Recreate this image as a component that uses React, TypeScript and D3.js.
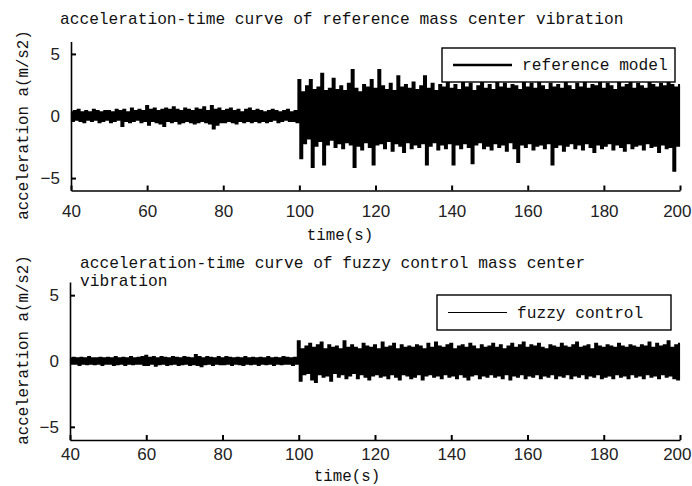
import React, { useRef, useEffect } from 'react';
import * as d3 from 'd3';

// samples every 0.5 s starting at 40 s (peaks)
const SAMPLE_START = 40;
const SAMPLE_STEP = 0.5;

// reference model, 40-100 s (quiet part)
const refQuiet = [
  0.3, -0.4, 0.4, -0.3, 0.5, -0.4, 0.3, -0.5, 0.4, -0.3, 0.3, -0.4, 0.5, -0.3, 0.4, -0.5, 0.3, -0.4, 0.4, -0.3,
  0.4, -0.5, 0.3, -0.4, 0.5, -0.3, 0.4, -0.8, 0.5, -0.4, 0.3, -0.5, 0.6, -0.4, 0.4, -0.3, 0.5, -0.5, 0.4, -0.4,
  0.8, -0.7, 0.5, -0.4, 0.6, -0.5, 0.4, -0.6, 0.5, -0.8, 0.6, -0.4, 0.5, -0.5, 0.7, -0.4, 0.5, -0.6, 0.4, -0.5,
  0.6, -0.4, 0.5, -0.5, 0.4, -0.6, 0.6, -0.5, 0.5, -0.4, 0.7, -0.5, 0.4, -0.6, 0.8, -1.0, 0.5, -0.7, 0.6, -0.5,
  0.4, -0.5, 0.5, -0.4, 0.6, -0.5, 0.4, -0.6, 0.5, -0.4, 0.3, -0.5, 0.5, -0.4, 0.6, -0.5, 0.4, -0.4, 0.5, -0.5,
  0.4, -0.4, 0.3, -0.5, 0.4, -0.4, 0.5, -0.3, 0.4, -0.5, 0.3, -0.4, 0.4, -0.3, 0.5, -0.4, 0.3, -0.4, 0.4, -0.5,
];

// reference model, 100-200 s
const refActive = [
  2.9, -3.4, 1.9, -2.2, 2.4, -1.8, 2.9, -4.1, 2.1, -2.4, 2.3, -2.0, 3.4, -3.9, 2.0, -2.3, 2.2, -1.9, 3.0, -2.5,
  2.1, -2.2, 2.4, -2.6, 2.0, -2.1, 2.6, -2.3, 3.7, -4.1, 2.2, -2.4, 1.9, -2.7, 2.5, -2.1, 2.3, -2.5, 2.9, -3.9,
  2.2, -2.3, 3.7, -2.2, 2.4, -2.6, 2.1, -2.0, 2.6, -2.8, 2.0, -2.2, 3.2, -2.4, 2.3, -2.9, 2.5, -2.1, 2.2, -2.6,
  2.7, -2.3, 2.1, -2.5, 2.4, -2.2, 3.2, -3.9, 2.2, -2.4, 2.6, -2.1, 2.0, -2.7, 2.5, -2.3, 2.3, -2.6, 2.8, -2.2,
  2.2, -3.9, 2.5, -2.3, 2.1, -2.6, 2.7, -2.2, 2.3, -2.5, 2.6, -3.8, 2.0, -2.3, 2.4, -2.1, 2.8, -2.6, 2.2, -2.4,
  2.5, -2.7, 2.1, -2.2, 2.7, -2.5, 2.3, -2.3, 2.6, -2.8, 2.2, -2.1, 2.5, -2.6, 2.4, -3.7, 2.1, -2.3, 2.8, -2.5,
  2.3, -2.2, 2.6, -2.7, 2.2, -2.4, 2.7, -2.3, 2.4, -2.6, 2.1, -2.2, 2.6, -3.9, 2.3, -2.5, 2.5, -2.3, 2.2, -2.8,
  2.7, -2.4, 2.4, -2.2, 2.1, -2.6, 2.6, -2.3, 2.3, -2.7, 2.8, -2.2, 2.2, -2.5, 2.5, -2.9, 2.4, -2.3, 2.7, -2.6,
  2.2, -2.4, 2.6, -2.2, 2.4, -2.7, 2.1, -2.3, 2.7, -2.5, 2.3, -2.8, 2.5, -2.2, 2.8, -2.6, 2.2, -2.4, 2.6, -2.3,
  2.4, -2.7, 2.2, -2.2, 2.7, -2.5, 2.5, -2.4, 2.3, -2.9, 2.6, -2.3, 2.4, -2.6, 2.7, -2.5, 2.5, -4.4, 2.3, -2.4,
  2.5,
];

// fuzzy control, 40-100 s
const fuzzyQuiet = [
  0.2, -0.2, 0.25, -0.2, 0.2, -0.3, 0.25, -0.2, 0.2, -0.25, 0.3, -0.2, 0.2, -0.25, 0.2, -0.2, 0.25, -0.3, 0.2, -0.2,
  0.25, -0.2, 0.2, -0.3, 0.3, -0.25, 0.2, -0.2, 0.25, -0.3, 0.2, -0.2, 0.3, -0.25, 0.2, -0.2, 0.25, -0.2, 0.3, -0.3,
  0.4, -0.3, 0.25, -0.2, 0.3, -0.35, 0.2, -0.25, 0.3, -0.2, 0.25, -0.3, 0.2, -0.25, 0.3, -0.2, 0.25, -0.3, 0.2, -0.25,
  0.3, -0.2, 0.25, -0.3, 0.2, -0.25, 0.45, -0.3, 0.3, -0.4, 0.2, -0.25, 0.3, -0.2, 0.25, -0.3, 0.2, -0.2, 0.3, -0.25,
  0.2, -0.25, 0.3, -0.2, 0.25, -0.3, 0.2, -0.2, 0.25, -0.25, 0.2, -0.3, 0.3, -0.2, 0.2, -0.25, 0.25, -0.2, 0.2, -0.3,
  0.25, -0.2, 0.2, -0.25, 0.3, -0.2, 0.2, -0.3, 0.25, -0.2, 0.2, -0.25, 0.3, -0.2, 0.25, -0.2, 0.2, -0.3, 0.25, -0.2,
];

// fuzzy control, 100-200 s
const fuzzyActive = [
  1.5, -1.5, 0.9, -1.0, 1.1, -0.9, 1.3, -1.4, 1.0, -1.6, 1.2, -1.0, 1.4, -1.2, 0.9, -1.1, 1.2, -1.5, 1.0, -0.9,
  1.1, -1.2, 0.9, -1.0, 1.5, -1.3, 1.0, -1.1, 1.2, -0.9, 1.0, -1.3, 0.9, -1.0, 1.3, -1.2, 1.1, -1.4, 1.0, -1.1,
  1.2, -1.0, 0.9, -1.2, 1.4, -1.1, 1.0, -1.3, 1.1, -1.0, 1.3, -1.2, 0.9, -1.4, 1.2, -1.0, 1.0, -1.1, 1.1, -1.3,
  1.0, -1.2, 1.2, -1.0, 1.1, -1.4, 0.9, -1.1, 1.3, -1.0, 1.0, -1.2, 1.4, -1.1, 1.1, -1.3, 1.0, -1.0, 1.2, -1.2,
  1.3, -1.1, 0.9, -1.3, 1.1, -1.0, 1.2, -1.2, 1.0, -1.4, 1.3, -1.1, 1.1, -1.0, 0.9, -1.3, 1.2, -1.1, 1.0, -1.2,
  1.1, -1.0, 1.3, -1.2, 1.0, -1.1, 1.2, -1.3, 0.9, -1.0, 1.1, -1.4, 1.3, -1.1, 1.0, -1.2, 1.2, -1.0, 1.4, -1.3,
  1.0, -1.1, 1.2, -1.2, 1.1, -1.0, 1.3, -1.3, 1.0, -1.1, 0.9, -1.2, 1.2, -1.0, 1.1, -1.3, 1.0, -1.1, 1.3, -1.2,
  1.1, -1.0, 1.0, -1.3, 1.2, -1.1, 1.4, -1.2, 1.0, -1.0, 1.1, -1.3, 1.2, -1.1, 0.9, -1.2, 1.3, -1.0, 1.1, -1.3,
  1.0, -1.2, 1.2, -1.1, 1.1, -1.3, 1.0, -1.0, 1.3, -1.2, 1.1, -1.1, 1.0, -1.3, 1.2, -1.0, 1.1, -1.2, 1.0, -1.1,
  1.2, -1.3, 1.1, -1.0, 1.4, -1.2, 1.0, -1.1, 1.3, -1.3, 1.1, -1.0, 1.2, -1.2, 1.5, -1.1, 1.0, -1.3, 1.2, -1.4,
  1.3,
];

const xTickValues = [40, 60, 80, 100, 120, 140, 160, 180, 200];
const yTickValues = [-5, 0, 5];
const xDomain = [40, 200];
const yDomain = [-6, 6];

const refTitle = ['acceleration-time curve of reference mass center vibration'];
const fuzzyTitle = ['acceleration-time curve of fuzzy control mass center', 'vibration'];
const yLabel = 'acceleration a(m/s2)';
const xLabel = 'time(s)';

const MONO = '"Liberation Mono", "DejaVu Sans Mono", monospace';
const SANS = '"Liberation Sans", Arial, sans-serif';

const panels = [
  {
    values: [...refQuiet, ...refActive],
    title: refTitle, titleX: 60, titleY: 24,
    legend: 'reference model', legendLineW: 2.6,
    box: { x: 442, y: 48, w: 233, h: 34 },
    left: 71, right: 680, top: 41.5, bottom: 190.5,
    lineW: 2.1, xPad: 14, yLabelY: 125, xLabelX: 340, xLabelY: 240,
  },
  {
    values: [...fuzzyQuiet, ...fuzzyActive],
    title: fuzzyTitle, titleX: 80, titleY: 268,
    legend: 'fuzzy control', legendLineW: 1.2,
    box: { x: 437, y: 295, w: 234, h: 35 },
    left: 70, right: 680, top: 282, bottom: 440,
    lineW: 2.05, xPad: 8, yLabelY: 350, xLabelX: 347, xLabelY: 481,
  },
];

function App() {
  const svgRef = useRef(null);

  useEffect(() => {
    const svg = d3.select(svgRef.current);
    svg.selectAll('*').remove();

    panels.forEach(p => {
      const x = d3.scaleLinear().domain(xDomain).range([p.left, p.right]);
      const y = d3.scaleLinear().domain(yDomain).range([p.bottom, p.top]);
      const g = svg.append('g');

      // signal, drawn as steps so the dense part fills up like the original plot
      const line = d3.line<number>()
        .x((d, i) => x(SAMPLE_START + i * SAMPLE_STEP))
        .y(d => y(d))
        .curve(d3.curveStep);
      g.append('path')
        .datum(p.values)
        .attr('d', line)
        .attr('fill', 'none')
        .attr('stroke', '#000')
        .attr('stroke-width', p.lineW);

      // bottom axis, ticks inside
      const xa = g.append('g')
        .attr('transform', `translate(0,${p.bottom})`)
        .call(d3.axisBottom(x).tickValues(xTickValues).tickSizeInner(-5).tickSizeOuter(0).tickPadding(p.xPad));
      xa.attr('font-family', SANS).attr('font-size', 17);
      xa.select('.domain').attr('stroke-width', 1.6);
      xa.selectAll('.tick line').attr('stroke-width', 2);
      xa.selectAll('.tick text').attr('fill', '#222')
        .attr('text-anchor', d => (d === 200 ? 'end' : 'middle'))
        .attr('dx', d => (d === 200 ? 11 : 0));

      // left axis, ticks inside
      const ya = g.append('g')
        .attr('transform', `translate(${p.left},0)`)
        .call(d3.axisLeft(y).tickValues(yTickValues).tickSizeInner(-5).tickSizeOuter(0).tickPadding(11)
          .tickFormat(d => (d < 0 ? '\u2212' + Math.abs(d) : String(d))));
      ya.attr('font-family', SANS).attr('font-size', 17);
      ya.select('.domain').attr('stroke-width', 1.6);
      ya.selectAll('.tick line').attr('stroke-width', 2);
      ya.selectAll('.tick text').attr('fill', '#222');

      // title
      const t = g.append('text')
        .attr('font-family', MONO)
        .attr('font-size', 16.2)
        .attr('fill', '#111');
      p.title.forEach((s, i) => {
        t.append('tspan').attr('x', p.titleX).attr('y', p.titleY + i * 18).text(s);
      });

      // axis labels
      g.append('text')
        .attr('transform', `translate(28,${p.yLabelY}) rotate(-90)`)
        .attr('text-anchor', 'middle')
        .attr('font-family', MONO)
        .attr('font-size', 15.8)
        .attr('fill', '#111')
        .text(yLabel);
      g.append('text')
        .attr('x', p.xLabelX)
        .attr('y', p.xLabelY)
        .attr('text-anchor', 'middle')
        .attr('font-family', MONO)
        .attr('font-size', 15.8)
        .attr('fill', '#111')
        .text(xLabel);

      // legend
      g.append('rect')
        .attr('x', p.box.x).attr('y', p.box.y)
        .attr('width', p.box.w).attr('height', p.box.h)
        .attr('fill', '#fff')
        .attr('stroke', '#000')
        .attr('stroke-width', 1.4);
      const ly = p.box.y + p.box.h / 2;
      g.append('line')
        .attr('x1', p.box.x + 11).attr('x2', p.box.x + 70)
        .attr('y1', ly).attr('y2', ly)
        .attr('stroke', '#000')
        .attr('stroke-width', p.legendLineW);
      g.append('text')
        .attr('x', p.box.x + 80)
        .attr('y', ly + 5)
        .attr('font-family', MONO)
        .attr('font-size', 16.2)
        .attr('fill', '#111')
        .text(p.legend);
    });
  }, []);

  return (
    <svg
      ref={svgRef}
      width={692}
      height={486}
      style={{ position: 'absolute', left: 0, top: 0, display: 'block', background: '#fff' }}
    />
  );
}

export default App;
